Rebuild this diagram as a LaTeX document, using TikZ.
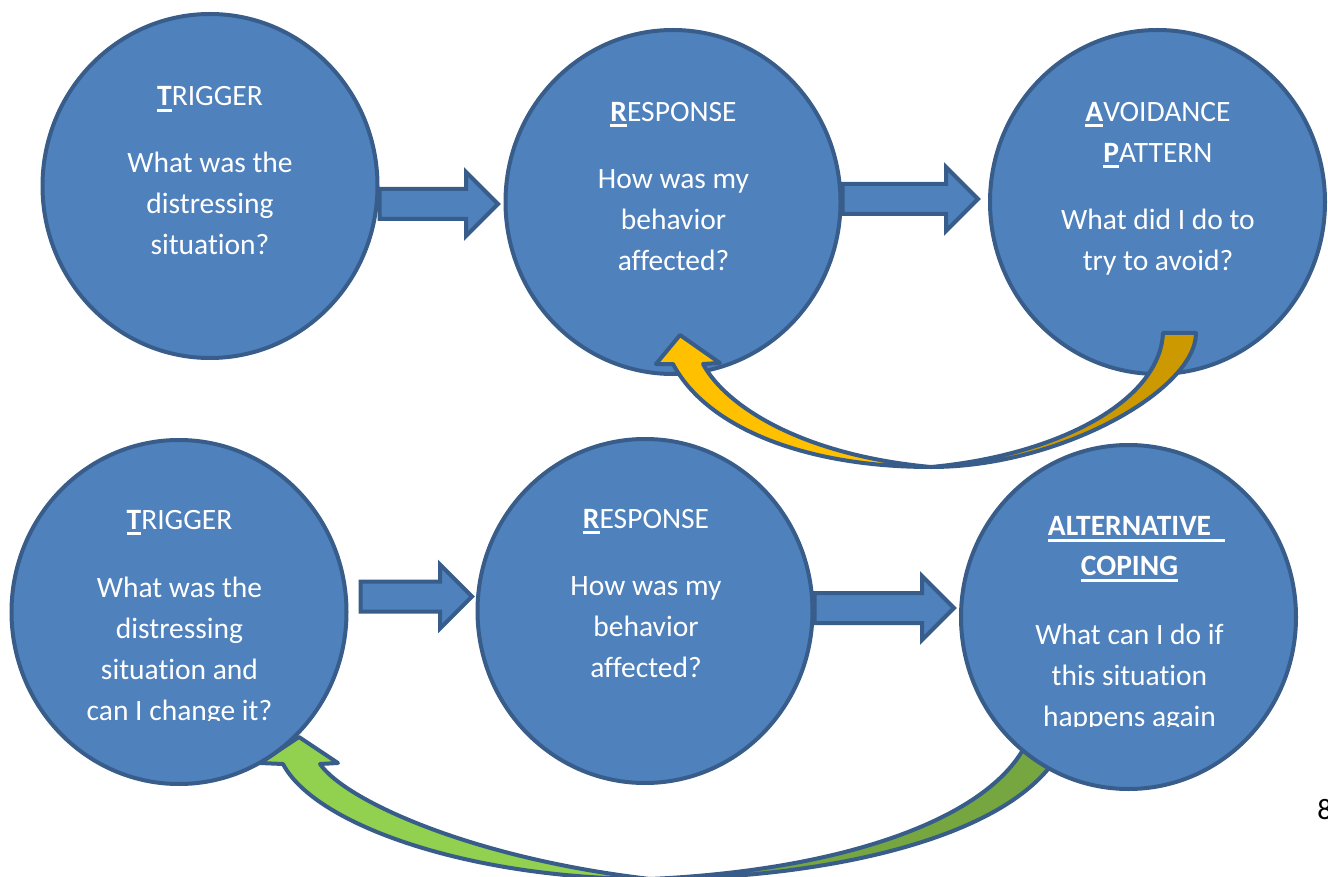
\documentclass[tikz,border=0pt]{standalone}
\usepackage{fontspec}
\setmainfont[Ligatures=NoCommon]{Carlito}
\usetikzlibrary{shapes.geometric,calc}

\definecolor{ringblue}{HTML}{385D8A}
\definecolor{fillblue}{HTML}{4F81BD}
\definecolor{gold}{HTML}{FFC000}
\definecolor{darkgold}{HTML}{CC9A00}
\definecolor{leafgreen}{HTML}{92D050}
\definecolor{darkleaf}{HTML}{75A640}

% thick underline as in the handout
\newcommand{\firstul}[1]{\setbox0=\hbox{#1}\rlap{\rule[-3pt]{\wd0}{1.5pt}}\box0}

% straight block arrow from #1 (only its x is used) to the tip #2
\newcommand{\fatarrow}[2]{%
  \draw[blockarrow] let \p1=(#1), \p2=(#2) in
    (\x1,\y2+7.5pt) -- (\x2-16pt,\y2+7.5pt) -- (\x2-16pt,\y2+16pt) -- (\x2,\y2)
    -- (\x2-16pt,\y2-16pt) -- (\x2-16pt,\y2-7.5pt) -- (\x1,\y2-7.5pt) -- cycle;}

\begin{document}
\begin{tikzpicture}[x=0.5pt,y=-0.5pt,
    bubble/.style={ellipse, draw=ringblue, fill=fillblue, line width=2pt,
      minimum width=167.5pt, minimum height=172pt, inner sep=0pt},
    caption/.style={text=white, align=center, inner sep=0pt, anchor=base,
      font=\fontsize{14.75}{20.5}\selectfont},
    blockarrow/.style={draw=ringblue, fill=fillblue, line width=2pt},
    bandedge/.style={draw=ringblue, line width=2pt, line join=round}]

  \useasboundingbox (0,0) rectangle (1328,877);

  % green return arrow (lies under the bottom circles)
  \coordinate (gbottom) at (650,879);
  \coordinate (ghead) at (299,737);
  \filldraw[bandedge, fill=leafgreen] (283,764) .. controls (315,825) and (470,879) .. (gbottom)
    .. controls (470,858) and (345,800) .. (320,764) -- (338,763) -- (ghead) -- (260,763) -- cycle;
  \filldraw[bandedge, fill=darkleaf] (gbottom) .. controls (820,879) and (1010,840) .. (1060,752)
    -- (1030,735) .. controls (1000,815) and (850,870) .. (gbottom) -- cycle;

  % bottom row
  \node[bubble] (trigger2) at (179,612) {};
  \node[bubble] (response2) at (645,611) {};
  \node[bubble] (coping) at (1128.5,617) {};

  % top row
  \node[bubble] (trigger) at (210,186) {};
  \node[bubble] (response) at (673,202) {};
  \node[bubble] (avoid) at (1157.5,202) {};

  % yellow return arrow
  \coordinate (ybottom) at (931,467);
  \coordinate (yhead) at (680,335);
  \filldraw[bandedge, fill=gold] (673,364) .. controls (705,425) and (800,467) .. (ybottom)
    .. controls (800,455) and (725,405) .. (703,364) -- (720,363) -- (yhead) -- (656,364) -- cycle;
  \filldraw[bandedge, fill=darkgold] (ybottom) .. controls (1060,467) and (1196,390) .. (1196,333)
    -- (1163,333) .. controls (1160,400) and (1060,455) .. (ybottom) -- cycle;

  % block arrows
  \fatarrow{trigger.east}{$(response.west)+(-5.5,2)$}
  \fatarrow{response.east}{$(avoid.west)+(-10,-3)$}
  \fatarrow{$(trigger2.east)+(12,0)$}{$(response2.west)+(-3.5,-14.5)$}
  \fatarrow{response2.east}{$(coping.west)+(-5,-9)$}

  % texts (placed by the baseline of their last line)
  \node[caption] (trigger-txt) at (210,255) {\firstul{\textbf{T}}RIGGER\\[13.2pt]
    What was the\\ distressing\\ situation?};
  \node[caption] (response-txt) at (673.5,270.7) {\firstul{\textbf{R}}ESPONSE\\[13.2pt]
    How was my\\ behavior\\ affected?};
  \node[caption] (avoid-txt) at (1158,270.7) {\firstul{\textbf{A}}VOIDANCE\\
    \firstul{\textbf{P}}ATTERN\\[13.2pt] What did I do to\\ try to avoid?};
  \begin{scope}
    \clip (0,0) rectangle (1328,720);
    \node[caption] (trigger2-txt) at (179.5,720.5) {\firstul{\textbf{T}}RIGGER\\[13.7pt]
      What was the\\ distressing\\ situation and\\ can I change it?};
  \end{scope}
  \node[caption] (response2-txt) at (646,677.7) {\firstul{\textbf{R}}ESPONSE\\[13.3pt]
    How was my\\ behavior\\ affected?};
  \begin{scope}
    \clip (0,0) rectangle (1328,726);
    \node[caption] (coping-txt) at (1129.5,726.5)
      {\textbf{\firstul{ALTERNATIVE}\rlap{\rule[-3pt]{7pt}{1.5pt}}}\\[-0.5pt]
      \textbf{\firstul{COPING}}\\[14pt] What can I do if\\ this situation\\ happens again};
  \end{scope}

  \node[anchor=base west, inner sep=0pt, font=\fontsize{14.75}{17}\selectfont] (pagenum) at (1317,819) {8};
\end{tikzpicture}
\end{document}
